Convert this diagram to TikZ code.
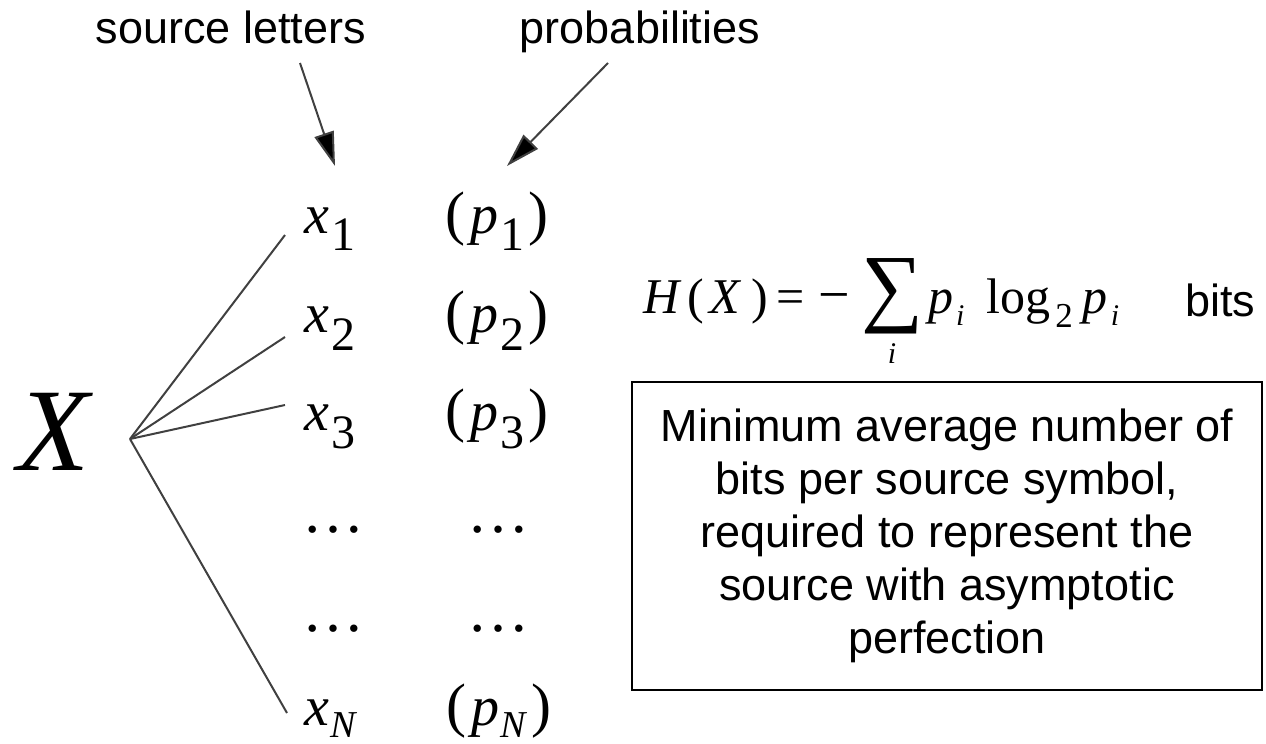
\documentclass[tikz,border=0pt]{standalone}
\usepackage{fontspec}
\setmainfont{Liberation Serif}
\newfontfamily\sansf{Liberation Sans}
\usetikzlibrary{arrows.meta}
\newcommand{\fs}[1]{\fontsize{#1}{#1}\selectfont}
\newcommand{\lowr}[2]{\raisebox{-#1pt}{#2}}
\definecolor{ln}{HTML}{404040}
\tikzset{
  lbl/.style={font=\sansf\fs{45}, inner sep=0pt},
  mth/.style={inner sep=0pt, anchor=base},
  fan/.style={draw=ln, line width=2pt},
  pointer/.style={draw=ln, line width=2pt, -{Triangle[length=34pt,width=20pt,fill=black]}},
  infobox/.style={draw=black, line width=2.5pt, minimum width=630pt, minimum height=308pt,
     align=center, font=\sansf\fontsize{45}{53}\selectfont, inner sep=0pt}
}
\begin{document}
\begin{tikzpicture}[x=1pt,y=-1pt]
\useasboundingbox (0,0) rectangle (1266,744);
% labels
\node[lbl, anchor=base] (srcl) at (231,43) {source letters};
\node[lbl, anchor=base] (prob) at (640,43) {probabilities};
% X
\node[mth] (X) at (55,470) {\fs{118}\textit{X}};
% rows
\node[mth] (x1) at (330,233) {\fs{56}\textit{x}\kern3pt\lowr{17}{\fs{48}1}};
\node[mth] (p1) at (497,233) {\fs{60}(\kern5pt\fs{56}\textit{p}\kern2pt\lowr{17}{\fs{48}1}\kern4pt\fs{60})};
\node[mth] (x2) at (330,332) {\fs{56}\textit{x}\kern3pt\lowr{18}{\fs{48}2}};
\node[mth] (p2) at (497,332) {\fs{60}(\kern5pt\fs{56}\textit{p}\kern2pt\lowr{18}{\fs{48}2}\kern4pt\fs{60})};
\node[mth] (x3) at (330,430) {\fs{56}\textit{x}\kern3pt\lowr{18}{\fs{48}3}};
\node[mth] (p3) at (497,430) {\fs{60}(\kern5pt\fs{56}\textit{p}\kern2pt\lowr{18}{\fs{48}3}\kern4pt\fs{60})};
\node[mth] (d1) at (333,532) {\fs{62}…};
\node[mth] (e1) at (498,532) {\fs{62}…};
\node[mth] (d2) at (333,631) {\fs{62}…};
\node[mth] (e2) at (498,631) {\fs{62}…};
\node[mth] (xN) at (331,725) {\fs{56}\textit{x}\kern1pt\lowr{12}{\fs{38}\textit{N}}};
\node[mth] (pN) at (499,725) {\fs{60}(\kern5pt\fs{56}\textit{p}\kern1pt\lowr{12}{\fs{38}\textit{N}}\kern4pt\fs{60})};
% fan
\coordinate (o) at (130,439);
\coordinate (t1) at (285,235);
\coordinate (t2) at (285,337);
\coordinate (t3) at (285,405);
\coordinate (tN) at (287,713);
\draw[fan] (o) -- (t1);
\draw[fan] (o) -- (t2);
\draw[fan] (o) -- (t3);
\draw[fan] (o) -- (tN);
% pointer arrows
\coordinate (a1s) at (300,63);
\coordinate (a1e) at (335,166);
\coordinate (a2s) at (608,63);
\coordinate (a2e) at (507,166);
\draw[pointer] (a1s) -- (a1e);
\draw[pointer] (a2s) -- (a2e);
% formula
\node[inner sep=0pt, anchor=base west] (Hx) at (643,313) {\fs{50}\textit{H}\kern6pt(\kern5pt\textit{X}\kern10pt)\kern8pt=\kern14pt\fs{56}−};
\node[inner sep=0pt, anchor=base] (sum) at (892,315) {\fs{87}∑};
\node[mth] (sumi) at (892,363) {\fs{30}\textit{i}};
\node[inner sep=0pt, anchor=base west] (rest) at (928,313) {\fs{50}\textit{p}\kern3pt\lowr{12}{\fs{30}\textit{i}}\kern22pt log\kern5pt\lowr{14}{\fs{35}2}\kern10pt\textit{p}\kern3pt\lowr{12}{\fs{30}\textit{i}}};
\node[lbl, anchor=base west] (bits) at (1185,316) {bits};
% box
\node[infobox] (box) at (947,536) {Minimum average number of\\bits per source symbol,\\required to represent the\\source with asymptotic\\perfection};
\end{tikzpicture}
\end{document}
